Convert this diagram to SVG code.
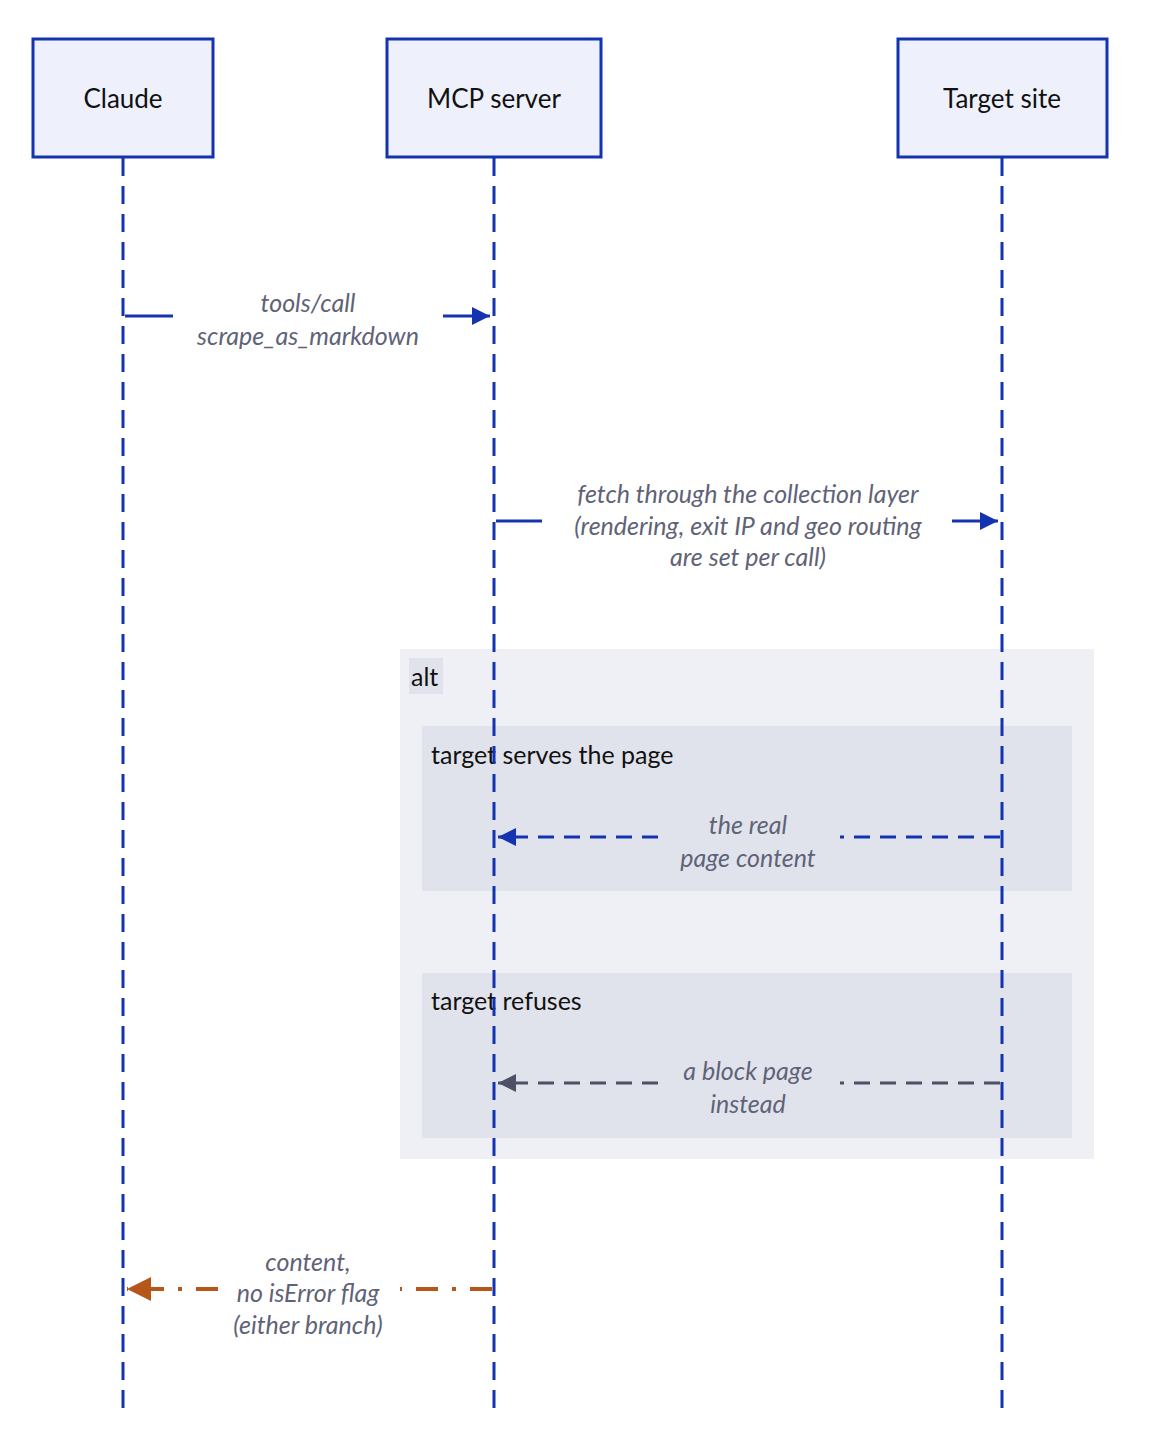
<svg xmlns="http://www.w3.org/2000/svg" width="1152" height="1456" viewBox="0 0 1152 1456">
<style>
.box{fill:#eef0fb;stroke:#1433b0;stroke-width:3}
.name{font-family:Lato,"Open Sans",sans-serif;font-size:26px;fill:#111;text-anchor:middle}
.life{stroke:#1433b0;stroke-width:3;stroke-dasharray:18 10;fill:none}
.msg{font-family:Lato,"Open Sans",sans-serif;font-size:25px;font-style:italic;fill:#5f6377;text-anchor:middle}
.frame{font-family:Lato,"Open Sans",sans-serif;font-size:25px;fill:#111}
.solid{stroke:#1433b0;stroke-width:3;fill:none}
.dash{stroke:#1433b0;stroke-width:3;fill:none;stroke-dasharray:16 10}
.dashg{stroke:#4d5166;stroke-width:3;fill:none;stroke-dasharray:16 10}
.dasho{stroke:#b5561a;stroke-width:4;fill:none;stroke-dasharray:22 14 4 14}
</style>
<defs>
<marker id="ab" viewBox="0 0 10 10" refX="10" refY="5" markerWidth="6" markerHeight="6" orient="auto-start-reverse"><path d="M0 0L10 5L0 10z" fill="#1433b0"/></marker>
<marker id="ag" viewBox="0 0 10 10" refX="10" refY="5" markerWidth="6" markerHeight="6" orient="auto-start-reverse"><path d="M0 0L10 5L0 10z" fill="#4d5166"/></marker>
<marker id="ao" viewBox="0 0 10 10" refX="10" refY="5" markerWidth="6" markerHeight="6" orient="auto-start-reverse"><path d="M0 0L10 5L0 10z" fill="#b5561a"/></marker>
</defs>
<rect width="1152" height="1456" fill="#fff"/>
<g id="alt">
<rect x="400" y="649" width="694" height="510" fill="#eff0f5"/>
<rect x="409" y="658" width="34" height="36" fill="#e1e3ec"/>
<text class="frame" x="411" y="686">alt</text>
<rect x="422" y="726" width="650" height="165" fill="#e1e3ec"/>
<text class="frame" x="431" y="764">target serves the page</text>
<rect x="422" y="973" width="650" height="165" fill="#e1e3ec"/>
<text class="frame" x="431" y="1010">target refuses</text>
</g>
<g id="lifelines">
<line class="life" x1="123" y1="158" x2="123" y2="1415"/>
<line class="life" x1="494" y1="158" x2="494" y2="1415"/>
<line class="life" x1="1002" y1="158" x2="1002" y2="1415"/>
</g>
<g id="claude"><rect class="box" x="33" y="39" width="180" height="118"/><text class="name" x="123" y="108">Claude</text></g>
<g id="mcp"><rect class="box" x="387" y="39" width="214" height="118"/><text class="name" x="494" y="108">MCP server</text></g>
<g id="target"><rect class="box" x="898" y="39" width="209" height="118"/><text class="name" x="1002" y="108">Target site</text></g>
<g id="connectors">
<path class="solid" d="M125 316H173"/>
<path class="solid" d="M443 316H490" marker-end="url(#ab)"/>
<text class="msg" x="308" y="312">tools/call</text>
<text class="msg" x="308" y="345">scrape_as_markdown</text>
<path class="solid" d="M496 521H542"/>
<path class="solid" d="M952 521H998" marker-end="url(#ab)"/>
<text class="msg" x="748" y="503">fetch through the collection layer</text>
<text class="msg" x="748" y="535">(rendering, exit IP and geo routing</text>
<text class="msg" x="748" y="566">are set per call)</text>
<path class="dash" d="M1000 837H840"/>
<path class="dash" d="M658 837H498" marker-end="url(#ab)"/>
<text class="msg" x="748" y="834">the real</text>
<text class="msg" x="748" y="867">page content</text>
<path class="dashg" d="M1000 1083H840"/>
<path class="dashg" d="M658 1083H498" marker-end="url(#ag)"/>
<text class="msg" x="748" y="1080">a block page</text>
<text class="msg" x="748" y="1113">instead</text>
<path class="dasho" d="M492 1289H400"/>
<path class="dasho" d="M218 1289H127" marker-end="url(#ao)"/>
<text class="msg" x="308" y="1271">content,</text>
<text class="msg" x="308" y="1302">no isError flag</text>
<text class="msg" x="308" y="1334">(either branch)</text>
</g>
</svg>
